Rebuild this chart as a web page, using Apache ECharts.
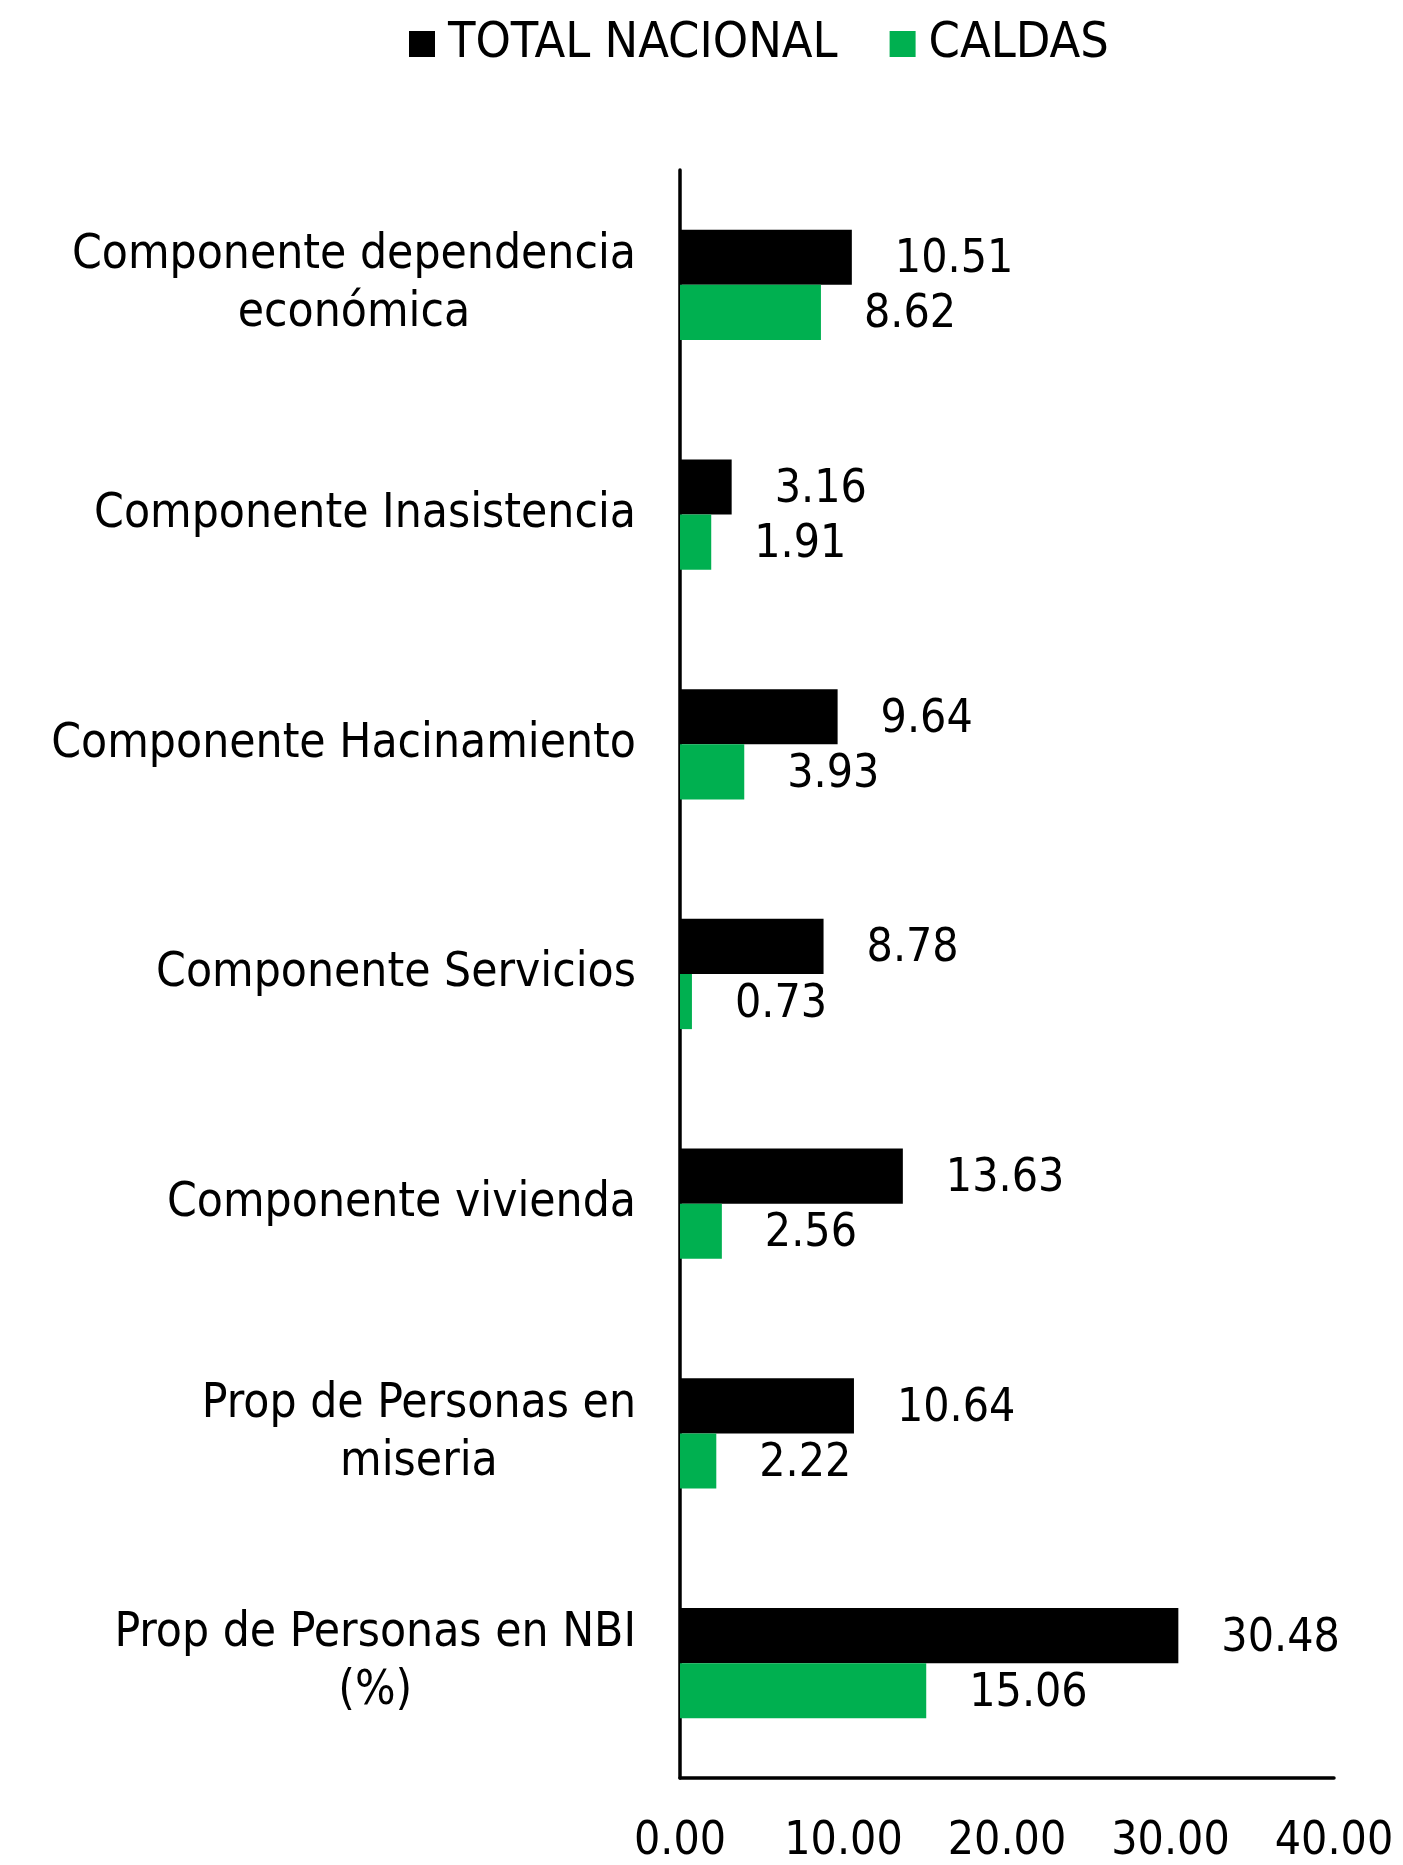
<!DOCTYPE html>
<html>
<head>
<meta charset="utf-8">
<script src="https://cdn.jsdelivr.net/npm/echarts@6/dist/echarts.min.js"></script>
<style>
  html, body { margin: 0; padding: 0; background: #fff; }
  #chart { width: 1403px; height: 1865px; }
</style>
</head>
<body>
<div id="chart"></div>
<script>
var categories = [
  'Componente dependencia\neconómica',
  'Componente Inasistencia',
  'Componente Hacinamiento',
  'Componente Servicios',
  'Componente vivienda',
  'Prop de Personas en\nmiseria',
  'Prop de Personas en NBI\n(%)'
];
var totalNacional = [10.51, 3.16, 9.64, 8.78, 13.63, 10.64, 30.48];
var caldas = [8.62, 1.91, 3.93, 0.73, 2.56, 2.22, 15.06];
var xTicks = [0, 10, 20, 30, 40];

var font = "'DejaVu Sans Condensed', 'DejaVu Sans', sans-serif";
var chart = echarts.init(document.getElementById('chart'));

var labelStyle = {
  show: true,
  position: 'right',
  distance: 43,
  offset: [0, 3],
  color: '#000',
  fontFamily: font,
  fontSize: 46,
  formatter: function (p) { return p.value.toFixed(2); }
};

chart.setOption({
  backgroundColor: '#fff',
  animation: false,
  legend: {
    top: 14,
    left: 404,
    itemWidth: 26,
    itemHeight: 26,
    itemGap: 52,
    icon: 'rect',
    textStyle: { fontFamily: font, fontSize: 50, color: '#000', padding: [0, 0, 0, 8] },
    data: ['TOTAL NACIONAL', 'CALDAS']
  },
  grid: { left: 680, right: 69, top: 170, bottom: 85, containLabel: false },
  xAxis: {
    type: 'value',
    min: xTicks[0],
    max: xTicks[xTicks.length - 1],
    interval: 10,
    axisLine: { show: true, lineStyle: { color: '#000', width: 3.5 } },
    axisTick: { show: false },
    splitLine: { show: false },
    axisLabel: {
      margin: 41,
      color: '#000',
      fontFamily: font,
      fontSize: 46,
      formatter: function (v) { return v.toFixed(2); }
    }
  },
  yAxis: {
    type: 'category',
    inverse: true,
    data: categories,
    axisLine: { show: true, lineStyle: { color: '#000', width: 3.5 } },
    axisTick: { show: false },
    axisLabel: {
      margin: 44,
      color: '#000',
      formatter: function (v) {
        return v.split('\n').map(function (l) { return '{c|' + l + '}'; }).join('\n');
      },
      rich: {
        c: { align: 'center', fontFamily: font, fontSize: 47.5, lineHeight: 58, color: '#000' }
      }
    }
  },
  series: [
    {
      name: 'TOTAL NACIONAL',
      type: 'bar',
      data: totalNacional,
      barGap: '0%',
      barCategoryGap: '52%',
      itemStyle: { color: '#000000' },
      label: labelStyle
    },
    {
      name: 'CALDAS',
      type: 'bar',
      data: caldas,
      barGap: '0%',
      barCategoryGap: '52%',
      itemStyle: { color: '#00B050' },
      label: labelStyle
    }
  ]
});
</script>
</body>
</html>
